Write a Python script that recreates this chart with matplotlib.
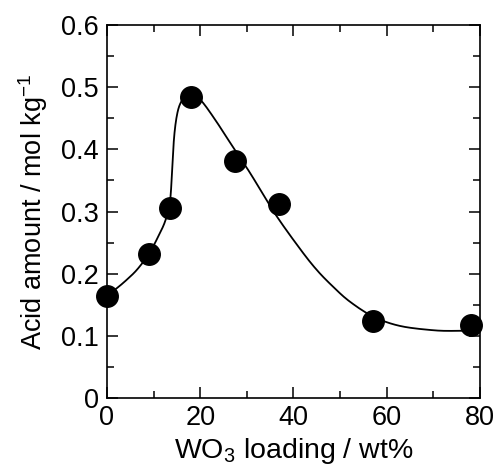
import numpy as np
import matplotlib
matplotlib.use("Agg")
import matplotlib.pyplot as plt
from matplotlib.ticker import MultipleLocator

plt.rcParams['font.family'] = ['Liberation Sans', 'DejaVu Sans']
plt.rcParams['mathtext.fontset'] = 'custom'
plt.rcParams['mathtext.rm'] = 'Liberation Sans'

# measured points
loading = [0, 9, 13.5, 18, 27.5, 37, 57, 78]
acid = [0.164, 0.232, 0.306, 0.485, 0.382, 0.312, 0.124, 0.117]

# guide curve
curve_x = [0, 2, 4.2, 6.5, 9, 11, 12.5, 13.5, 14.0, 14.4, 15.0, 15.8, 17, 18, 20, 23,
           27, 30.7, 36, 41.4, 45, 48.5, 52.1, 57.1, 62.8, 70, 75, 80]
curve_y = [0.165, 0.176, 0.190, 0.207, 0.232, 0.260, 0.285, 0.315, 0.37, 0.42, 0.455,
           0.475, 0.485, 0.487, 0.480, 0.450, 0.404, 0.362, 0.297, 0.240, 0.206, 0.179,
           0.155, 0.131, 0.116, 0.109, 0.108, 0.109]

x_ticks = [0, 20, 40, 60, 80]
y_ticks = [0, 0.1, 0.2, 0.3, 0.4, 0.5, 0.6]
y_tick_labels = ['0', '0.1', '0.2', '0.3', '0.4', '0.5', '0.6']


def catmull_rom(xs, ys, n=12):
    P = np.column_stack([xs, ys])
    P = np.vstack([P[0], P, P[-1]])
    out = []
    for i in range(1, len(P) - 2):
        p0, p1, p2, p3 = P[i - 1], P[i], P[i + 1], P[i + 2]
        for t in np.linspace(0, 1, n, endpoint=False):
            t2, t3 = t * t, t * t * t
            pt = 0.5 * ((2 * p1) + (-p0 + p2) * t + (2 * p0 - 5 * p1 + 4 * p2 - p3) * t2
                        + (-p0 + 3 * p1 - 3 * p2 + p3) * t3)
            out.append(pt)
    out.append(P[-2])
    out = np.array(out)
    return out[:, 0], out[:, 1]


fig = plt.figure(figsize=(4.96, 4.72), dpi=100)
ax = fig.add_axes([0.2157, 0.1568, 0.752, 0.790])

cx, cy = catmull_rom(curve_x, curve_y)
ax.plot(cx, cy, color='black', lw=1.3, zorder=2, clip_on=False)
ax.plot(loading, acid, 'o', color='black', markersize=15.5, zorder=3, clip_on=False)

ax.set_xlim(0, 80)
ax.set_ylim(0, 0.6)
ax.set_xticks(x_ticks)
ax.set_xticklabels([str(v) for v in x_ticks])
ax.set_yticks(y_ticks)
ax.set_yticklabels(y_tick_labels)
ax.xaxis.set_minor_locator(MultipleLocator(10))
ax.yaxis.set_minor_locator(MultipleLocator(0.05))

ax.tick_params(which='both', direction='in', top=True, right=True, width=1.1,
               labelsize=19.5)
ax.tick_params(axis='x', pad=5)
ax.tick_params(axis='y', pad=6)
ax.tick_params(which='major', length=8)
ax.tick_params(which='minor', length=5)
for s in ax.spines.values():
    s.set_linewidth(1.2)

ax.set_xlabel('WO$_3$ loading / wt%', fontsize=20.5, labelpad=4)
ax.set_ylabel('Acid amount / mol kg$^{\\mathregular{-1}}$', fontsize=19.5, labelpad=8)

fig.savefig('out.png', dpi=100)
